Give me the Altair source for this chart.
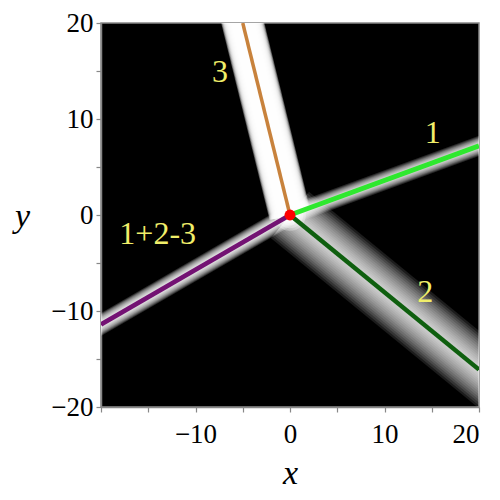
import altair as alt
import pandas as pd

# ---- data ----
seg_names = ["1", "2", "3", "1+2-3"]
end_x = [20, 20, -5, -20]
end_y = [7.2, -16.1, 20, -11.4]

label_text = ["1", "2", "3", "1+2-3"]
label_x = [15.1, 14.3, -7.4, -14.0]
label_y = [8.5, -8.0, 14.9, -2.0]

origin_x = [0]
origin_y = [0]

tick_values = [-20, -15, -10, -5, 0, 5, 10, 15, 20]

# ---- styles ----
FONT = "Liberation Serif"
line_colors = ["#2ee82e", "#0f5f0f", "#c8823c", "#731273"]
line_widths = [5, 4.5, 3.5, 4.5]
glow_width = [19, 60, 42, 20]
glow_power = [1.6, 1.2, 0.5, 1.4]
glow_levels = [16, 16, 16, 16]
glow_alpha = [0.16, 0.11, 0.36, 0.18]
glow_reach = 1.4  # glow rays continue past the frame (clipped)
blob_sizes = [250, 450, 700, 1000]

# ---- tables ----
glow_rows = []
for i, name in enumerate(seg_names):
    n = glow_levels[i]
    for k in range(1, n + 1):
        glow_rows.append({"name": name, "x0": 0, "y0": 0,
                          "x1": end_x[i] * glow_reach, "y1": end_y[i] * glow_reach,
                          "w": glow_width[i] * (k / n) ** glow_power[i], "a": glow_alpha[i]})
glow_df = pd.DataFrame(glow_rows)

seg_df = pd.DataFrame({"name": seg_names, "x0": [0] * 4, "y0": [0] * 4,
                       "x1": end_x, "y1": end_y, "w": line_widths})
lab_df = pd.DataFrame({"t": label_text, "x": label_x, "y": label_y})
blob_df = pd.DataFrame({"x": origin_x * len(blob_sizes), "y": origin_y * len(blob_sizes), "s": blob_sizes})
org_df = pd.DataFrame({"x": origin_x, "y": origin_y})

xs = alt.Scale(domain=[-20, 20], nice=False, zero=False)
ys = alt.Scale(domain=[-20, 20], nice=False, zero=False)

x_axis = alt.Axis(values=tick_values, labelExpr="datum.value % 10 == 0 && datum.value > -20 ? datum.label : ''",
                  grid=False, tickSize=5, labelPadding=9, title="x", titleFontStyle="italic",
                  titleFontSize=34, titleFontWeight="normal", titleY=76, titleX=189,
                  titleAlign="center", titleBaseline="alphabetic")
y_axis = alt.Axis(values=tick_values, labelExpr="datum.value % 10 == 0 ? datum.label : ''",
                  grid=False, tickSize=5, labelPadding=3, title="y", titleFontStyle="italic",
                  titleFontSize=34, titleFontWeight="normal", titleAngle=0, titleX=-79, titleY=203,
                  titleAlign="center", titleBaseline="alphabetic")

glow = alt.Chart(glow_df).mark_rule(color="white", strokeCap="butt", clip=True).encode(
    x=alt.X("x0:Q", scale=xs, axis=x_axis),
    y=alt.Y("y0:Q", scale=ys, axis=y_axis),
    x2="x1:Q", y2="y1:Q",
    strokeWidth=alt.StrokeWidth("w:Q", scale=None),
    opacity=alt.Opacity("a:Q", scale=None),
)

blob = alt.Chart(blob_df).mark_circle(color="white", opacity=0.3, clip=True).encode(
    x=alt.X("x:Q", scale=xs), y=alt.Y("y:Q", scale=ys),
    size=alt.Size("s:Q", scale=None),
)

lines = alt.Chart(seg_df).mark_rule(strokeCap="butt", clip=True).encode(
    x=alt.X("x0:Q", scale=xs), y=alt.Y("y0:Q", scale=ys),
    x2="x1:Q", y2="y1:Q",
    color=alt.Color("name:N", scale=alt.Scale(domain=seg_names, range=line_colors), legend=None),
    strokeWidth=alt.StrokeWidth("w:Q", scale=None),
)

origin = alt.Chart(org_df).mark_circle(color="#ff0000", opacity=1, size=120).encode(
    x=alt.X("x:Q", scale=xs), y=alt.Y("y:Q", scale=ys),
)

labels = alt.Chart(lab_df).mark_text(font=FONT, fontSize=32, color="#f0ee6a",
                                     align="center", baseline="middle").encode(
    x=alt.X("x:Q", scale=xs), y=alt.Y("y:Q", scale=ys), text="t:N",
)

chart = alt.layer(glow, blob, lines, origin, labels).properties(
    width=378, height=384,
    padding={"left": 93, "top": 15, "right": 5, "bottom": 85},
    autosize=alt.AutoSizeParams(type="none"),
).configure_view(fill="black", stroke="#888888", strokeWidth=1.5).configure_axis(
    domainColor="#888888", tickColor="#888888", domainWidth=1.5, tickWidth=1.2,
    labelFont=FONT, labelFontSize=27, labelColor="black",
    titleFont=FONT, titleColor="black",
)

chart.save("out.html", embed_options={"renderer": "svg", "actions": False})
